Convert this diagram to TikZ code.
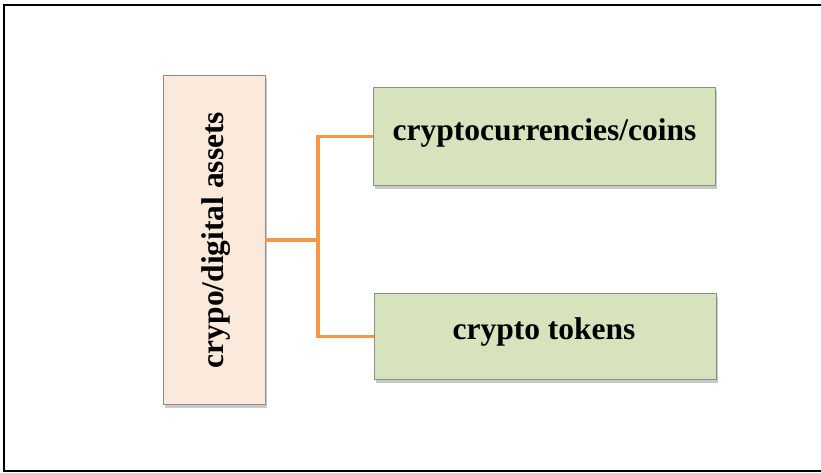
\documentclass[tikz,border=0pt]{standalone}
\usepackage{fontspec}
\setmainfont{Liberation Serif}
\usetikzlibrary{shadows}
\definecolor{peach}{HTML}{FBE9DB}
\definecolor{sage}{HTML}{D6E3BC}
\definecolor{orangeline}{HTML}{F79646}
\definecolor{boxborder}{HTML}{8C8C8C}
\tikzset{
  box/.style={draw=boxborder, line width=0.8pt, inner sep=0pt,
    drop shadow={shadow xshift=2pt, shadow yshift=-3pt, opacity=0.35, fill=black!60}},
  label/.style={font=\fontsize{31.5}{34}\selectfont\bfseries, inner sep=0pt},
  conn/.style={draw=orangeline, line width=3.6pt}
}
\begin{document}
\begin{tikzpicture}[x=1pt,y=-1pt]
\useasboundingbox (0,0) rectangle (821,473);
\fill[white] (0,0) rectangle (821,473);
\draw[line width=2pt] (821,5) -- (4,5) -- (4,471) -- (821,471);
\node[box, fill=peach, minimum width=102pt, minimum height=329pt] (L) at (214,240) {};
\node[box, fill=sage, minimum width=342pt, minimum height=98pt] (A) at (544,136.5) {};
\node[box, fill=sage, minimum width=342pt, minimum height=86pt] (B) at (545,336.5) {};
\node[label, rotate=90] (Lt) at (216,240) {crypo/digital assets};
\node[label] (At) at (544.5,133) {cryptocurrencies/coins};
\node[label] (Bt) at (544,332) {crypto tokens};
\coordinate (J) at (318,240);
\draw[conn] (L.east) -- (J);
\draw[conn] (A.west) -| (J) |- (B.west);
\end{tikzpicture}
\end{document}
